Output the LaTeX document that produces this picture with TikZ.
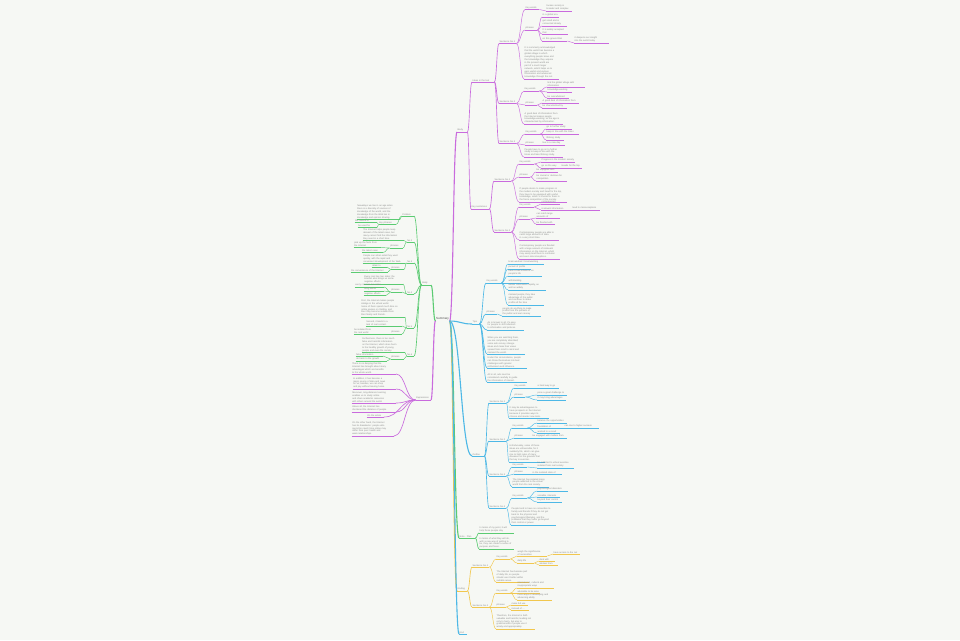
\documentclass[tikz,border=0pt]{standalone}
\usepackage{fontspec}
\setmainfont{Liberation Sans}
\usetikzlibrary{calc}
\definecolor{pu}{HTML}{C96BDD}
\definecolor{cy}{HTML}{4DB8E6}
\definecolor{gr}{HTML}{5BCB72}
\definecolor{ye}{HTML}{F1C74E}
\definecolor{tx}{HTML}{8A8A8A}
\definecolor{bg}{HTML}{F6F8F4}
\newcommand\RN[5]{\node[rn,text width=#4pt] (#1) at (#3) {#5};\draw[ul=#2] (#1.south west) -- (#1.south east);}
\newcommand\LN[5]{\node[ln,text width=#4pt] (#1) at (#3) {#5};\draw[ul=#2] (#1.south west) -- (#1.south east);}
\newcommand\CR[4][c3]{\draw[#1=#2] let \p1=(#3.south east), \p2=(#4.south west), \n1={0.5*\x1+0.5*\x2} in (\p1) .. controls (\n1,\y1) and (\n1,\y2) .. (\p2);}
\newcommand\CL[4][c3]{\draw[#1=#2] let \p1=(#3.south west), \p2=(#4.south east), \n1={0.5*\x1+0.5*\x2} in (\p1) .. controls (\n1,\y1) and (\n1,\y2) .. (\p2);}
\begin{document}
\begin{tikzpicture}[x=1pt,y=-1pt,
  tb/.style={font=\fontsize{2.3}{2.9}\selectfont, text=tx, inner xsep=0.5pt, inner ysep=0.45pt, align=left},
  rn/.style={tb, anchor=south west},
  ln/.style={tb, anchor=south east},
  ul/.style={draw=#1, line width=0.4pt},
  c1/.style={draw=#1, line width=1.1pt},
  c2/.style={draw=#1, line width=0.65pt},
  c3/.style={draw=#1, line width=0.45pt}]
\fill[bg] (0,0) rectangle (960,640);
\useasboundingbox (0,0) rectangle (960,640);
\node[tb, font=\fontsize{3}{3.6}\selectfont, text=black!70, anchor=center] (ctr) at (442.5,319) {Summary};
% ---------- purple right ----------
\RN{P1}{pu}{457,132}{9}{Body}
\RN{L2a}{pu}{472,82}{21}{Ideas in the text}
\RN{L2b}{pu}{471,209}{17}{Key sentences}
\RN{S1}{pu}{499,43.5}{16}{Sentence No.1}
\RN{S1k}{pu}{525,9.5}{13}{Key words}
\RN{S1k1}{pu}{546,11}{25}{human society is\\ broader and complex}
\RN{S1p}{pu}{525,30}{11}{phrases}
\RN{S1p1}{pu}{542,17}{16}{in a global era}
\RN{S1p2}{pu}{542,26}{24}{get small and is\\ connected closely}
\RN{S1p3}{pu}{542,34}{25}{It is widely accepted\\ that}
\RN{S1p4}{pu}{542,41}{24}{on this ground that}
\RN{S1p4a}{pu}{574,43}{34}{it deepens our insight\\ into the world today}
\RN{S1t}{pu}{524,79}{34}{It is commonly acknowledged\\ that the world has become a\\ global village in which\\ everything people know and\\ the knowledge they acquire\\ in the present world are\\ part of a much larger\\ network, which helps us to\\ gain useful and various\\ information and advanced\\ knowledge through the net.}
\RN{S2}{pu}{499,103.5}{16}{Sentence No.2}
\RN{S2k}{pu}{524,91}{14}{Key words}
\RN{S2k1}{pu}{547,87}{37}{link the global village with\\ information}
\RN{S2k2}{pu}{547,92}{24}{knowledge-wanting}
\RN{S2k3}{pu}{547,98}{21}{be overwhelmed}
\RN{S2p}{pu}{525,105}{11}{phrases}
\RN{S2p1}{pu}{542,103}{36}{A good deal of information from}
\RN{S2p2}{pu}{542,108}{24}{be characterized by}
\RN{S2t}{pu}{524,124}{38}{A good deal of information from\\ the Internet makes people\\ knowledge-wanting, so the age is\\ characterized by information.}
\RN{S3}{pu}{499,143.5}{16}{Sentence No.3}
\RN{S3k}{pu}{525,134}{14}{Key words}
\RN{S3k1}{pu}{546,129}{25}{go to further study}
\RN{S3k2}{pu}{546,134}{32}{keep in line with the times}
\RN{S3k3}{pu}{546,140}{17}{lifelong study}
\RN{S3p}{pu}{525,145}{11}{phrases}
\RN{S3p1}{pu}{542,145}{22}{live in a new day}
\RN{S3t}{pu}{524,157}{38}{People have to go on to further\\ study to keep in line with the\\ times and take lifelong study.}
\RN{T1}{pu}{494,181}{16}{Sentence No.1}
\RN{T1k}{pu}{519,164}{14}{Key words}
\RN{T1k1}{pu}{541,162}{33}{Progress in the modern society}
\RN{T1k2}{pu}{541,168}{15}{go on the way}
\RN{T1k2a}{pu}{561,168}{20}{Heads for the top}
\RN{T1p}{pu}{519,177}{10}{phrases}
\RN{T1p1}{pu}{536,172}{21}{be equipped with}
\RN{T1p2}{pu}{536,181}{30}{be crucial or decisive for\\ competition}
\RN{T1t}{pu}{519,202}{47}{If people desire to make progress in\\ the modern society and head for the top,\\ they have to be equipped with useful\\ knowledge, which is crucial for them in\\ the fierce competition of the society.}
\RN{T2}{pu}{494,232}{16}{Sentence No.2}
\RN{T2k}{pu}{519,207}{14}{Key words}
\RN{T2k1}{pu}{541,204}{18}{contemporary}
\RN{T2k2}{pu}{541,210}{25}{irrelevant information}
\RN{T2k2a}{pu}{572,210}{27}{lead to misconceptions}
\RN{T2p}{pu}{519,219}{10}{phrases}
\RN{T2p1}{pu}{536,218}{23}{can catch large\\ amounts of}
\RN{T2p2}{pu}{536,224}{18}{be flooded with}
\RN{T2t1}{pu}{519,240}{39}{Contemporary people are able to\\ catch large amounts of data\\ in a very short time.}
\RN{T2t2}{pu}{519,259}{40}{Contemporary people are flooded\\ with a large amount of irrelevant\\ information on the Internet, which\\ may easily lead them to confusion\\ and even misconceptions.}
\CR[c1]{pu}{ctr}{P1}
\CR[c2]{pu}{P1}{L2a}
\CR[c2]{pu}{P1}{L2b}
\CR[c2]{pu}{L2a}{S1}
\CR[c2]{pu}{L2a}{S2}
\CR[c2]{pu}{L2a}{S3}
\CR[c2]{pu}{L2b}{T1}
\CR[c2]{pu}{L2b}{T2}
\CR{pu}{S1}{S1k}
\CR{pu}{S1}{S1p}
\CR{pu}{S1}{S1t}
\CR{pu}{S1k}{S1k1}
\CR{pu}{S1p}{S1p1}
\CR{pu}{S1p}{S1p2}
\CR{pu}{S1p}{S1p3}
\CR{pu}{S1p}{S1p4}
\CR{pu}{S1p4}{S1p4a}
\CR{pu}{S2}{S2k}
\CR{pu}{S2}{S2p}
\CR{pu}{S2}{S2t}
\CR{pu}{S2k}{S2k1}
\CR{pu}{S2k}{S2k2}
\CR{pu}{S2k}{S2k3}
\CR{pu}{S2p}{S2p1}
\CR{pu}{S2p}{S2p2}
\CR{pu}{S3}{S3k}
\CR{pu}{S3}{S3p}
\CR{pu}{S3}{S3t}
\CR{pu}{S3k}{S3k1}
\CR{pu}{S3k}{S3k2}
\CR{pu}{S3k}{S3k3}
\CR{pu}{S3p}{S3p1}
\CR{pu}{T1}{T1k}
\CR{pu}{T1}{T1p}
\CR{pu}{T1}{T1t}
\CR{pu}{T1k}{T1k1}
\CR{pu}{T1k}{T1k2}
\CR{pu}{T1k2}{T1k2a}
\CR{pu}{T1p}{T1p1}
\CR{pu}{T1p}{T1p2}
\CR{pu}{T2}{T2k}
\CR{pu}{T2}{T2p}
\CR{pu}{T2}{T2t1}
\CR{pu}{T2}{T2t2}
\CR{pu}{T2k}{T2k1}
\CR{pu}{T2k}{T2k2}
\CR{pu}{T2k2}{T2k2a}
\CR{pu}{T2p}{T2p1}
\CR{pu}{T2p}{T2p2}
% ---------- cyan C1 ----------
\RN{C1}{cy}{472,324}{6}{Tips}
\RN{C1k}{cy}{486,283}{14}{Key words}
\RN{C1k1}{cy}{508,264}{35}{brain-washed / brainwashing}
\RN{C1k2}{cy}{508,269}{22}{pursuit of profits}
\RN{C1k3}{cy}{508,276}{33}{have a bad influence on\\ people's life}
\RN{C1k4}{cy}{508,283}{20}{withstanding}
\RN{C1k5}{cy}{508,290}{37}{deliver information rapidly, as\\ well as widely}
\RN{C1k6}{cy}{508,305}{35}{mislead people, they take\\ advantage of the public\\ and continue to make\\ profits all the time}
\RN{C1p}{cy}{486,314}{10}{phrases}
\RN{C1p1}{cy}{502,316}{38}{people do anything to make\\ profits from the pockets of\\ the public and earn money}
\RN{C1t1}{cy}{487,330}{36}{As is known to all, it's easy\\ for people to shift attention\\ to information and pictures.}
\RN{C1t2}{cy}{487,354}{37}{When you are watching them,\\ you are completely absorbed;\\ some ads convey strange\\ ideas and make their views\\ spread from mind to mind and\\ mislead the world.}
\RN{C1t3}{cy}{487,368}{39}{Under this circumstance, people\\ can throw themselves into bad\\ challenges with greater\\ enthusiasm and influence.}
\RN{C1t4}{cy}{487,382}{39}{All in all, ads must be\\ considered carefully to guide\\ the information of interest.}
\CR[c1]{cy}{ctr}{C1}
\CR[c2]{cy}{C1}{C1k}
\CR[c2]{cy}{C1}{C1p}
\CR[c2]{cy}{C1}{C1t1}
\CR[c2]{cy}{C1}{C1t2}
\CR[c2]{cy}{C1}{C1t3}
\CR[c2]{cy}{C1}{C1t4}
\CR{cy}{C1k}{C1k1}
\CR{cy}{C1k}{C1k2}
\CR{cy}{C1k}{C1k3}
\CR{cy}{C1k}{C1k4}
\CR{cy}{C1k}{C1k5}
\CR{cy}{C1k}{C1k6}
\CR{cy}{C1p}{C1p1}
% ---------- cyan C2 ----------
\RN{C2}{cy}{472,456}{11}{Outline}
\RN{U1}{cy}{489,403}{16}{Sentence No.1}
\RN{U1k}{cy}{514,388}{14}{Key words}
\RN{U1k1}{cy}{537,388}{21}{a hard way to go}
\RN{U1p}{cy}{514,397}{10}{phrases}
\RN{U1p1}{cy}{537,395}{29}{pose a great challenge to}
\RN{U1p2}{cy}{537,400}{28}{it may bring advantages}
\RN{U1t}{cy}{509,418}{39}{It may be advantageous to\\ have prospects in the Internet\\ because it provides ways to\\ choose and master new tools.}
\RN{U2}{cy}{489,441}{16}{Sentence No.2}
\RN{U2k}{cy}{512,428}{14}{Key words}
\RN{U2k1}{cy}{537,423}{29}{balance the opportunities}
\RN{U2k2}{cy}{537,428}{19}{foundation of}
\RN{U2k2a}{cy}{564,428}{34}{can rise to higher success}
\RN{U2k3}{cy}{537,433}{22}{worked to a result}
\RN{U2p}{cy}{514,438}{10}{phrases}
\RN{U2p1}{cy}{532,438}{34}{be engaged with matters from}
\RN{U2t}{cy}{509,462}{35}{Unfortunately, some of these\\ ideas are unfavorable, for it\\ suddenly fits, which can give\\ rise to high rates of many\\ diseases on the grounds that\\ the key is exercise.}
\RN{U3}{cy}{489,476}{16}{Sentence No.3}
\RN{U3k}{cy}{512,467}{14}{Key words}
\RN{U3k1}{cy}{537,468}{36}{be addicted to virtual exercise\\ isolated from real society}
\RN{U3p}{cy}{514,474}{10}{phrases}
\RN{U3p1}{cy}{532,474}{29}{in the isolated state of}
\RN{U3t}{cy}{512,487}{36}{The Internet has isolated many\\ people addicted to the virtual\\ world from the real society.}
\RN{U4}{cy}{489,508}{16}{Sentence No.4}
\RN{U4k}{cy}{512,498}{14}{Key words}
\RN{U4k1}{cy}{537,491}{30}{psychological disorders}
\RN{U4k2}{cy}{537,497}{22}{sociable, interests}
\RN{U4k3}{cy}{537,502}{24}{beyond their control}
\RN{U4t}{cy}{511,525}{44}{People tend to have no connection to\\ family and friends if they do not get\\ back to the physical and\\ psychological lifestyles, and the\\ problems that they suffer go beyond\\ their control or power.}
\CR[c1]{cy}{ctr}{C2}
\CR[c2]{cy}{C2}{U1}
\CR[c2]{cy}{C2}{U2}
\CR[c2]{cy}{C2}{U3}
\CR[c2]{cy}{C2}{U4}
\CR{cy}{U1}{U1k}
\CR{cy}{U1}{U1p}
\CR{cy}{U1}{U1t}
\CR{cy}{U1k}{U1k1}
\CR{cy}{U1p}{U1p1}
\CR{cy}{U1p}{U1p2}
\CR{cy}{U2}{U2k}
\CR{cy}{U2}{U2p}
\CR{cy}{U2}{U2t}
\CR{cy}{U2k}{U2k1}
\CR{cy}{U2k}{U2k2}
\CR{cy}{U2k}{U2k3}
\CR{cy}{U2k2}{U2k2a}
\CR{cy}{U2p}{U2p1}
\CR{cy}{U3}{U3k}
\CR{cy}{U3}{U3p}
\CR{cy}{U3}{U3t}
\CR{cy}{U3k}{U3k1}
\CR{cy}{U3p}{U3p1}
\CR{cy}{U4}{U4k}
\CR{cy}{U4}{U4t}
\CR{cy}{U4k}{U4k1}
\CR{cy}{U4k}{U4k2}
\CR{cy}{U4k}{U4k3}
% ---------- green right ----------
\RN{G1}{gr}{459,538}{15}{Note · Plan}
\RN{G1a}{gr}{479,533}{34}{In terms of my point, it will\\ help those people stay}
\RN{G1b}{gr}{479,549}{34}{In terms of what they will do,\\ with a new way of getting to\\ be, they can create a sense of\\ purpose and focus.}
\CR[c1]{gr}{ctr}{G1}
\CR[c2]{gr}{G1}{G1a}
\CR[c2]{gr}{G1}{G1b}
% ---------- yellow ----------
\RN{Y1}{ye}{457,591}{9}{Ending}
\RN{V1}{ye}{472,567}{16}{Sentence No.1}
\RN{V1k}{ye}{496,559}{13}{Key words}
\RN{V1k1}{ye}{517,556}{29}{weigh the significance\\ of necessities}
\RN{V1k1a}{ye}{553,554}{26}{have access to the net}
\RN{V1k2}{ye}{517,563}{16}{daily life}
\RN{V1k2a}{ye}{539,561}{15}{deal with}
\RN{V1k2b}{ye}{539,565}{18}{abstain from}
\RN{V1t}{ye}{496,582}{32}{The Internet has become part\\ of daily life, so people\\ should use it better within\\ suitable areas.}
\RN{V2}{ye}{472,607}{16}{Sentence No.2}
\RN{V2k}{ye}{496,593}{13}{Key words}
\RN{V2k1}{ye}{517,588}{36}{international, cultural and\\ inappropriate ways}
\RN{V2k2}{ye}{517,593}{22}{advisable to be wise}
\RN{V2k3}{ye}{517,600}{34}{more ways of developing and\\ advancing ability}
\RN{V2p}{ye}{496,607}{9}{phrases}
\RN{V2p1}{ye}{511,605}{16}{make full use}
\RN{V2p2}{ye}{511,610}{17}{instead of ...}
\RN{V2t}{ye}{496,629}{38}{Therefore, the Internet is both\\ valuable and harmful, leading not\\ only to harm, but also to\\ great benefits if people use it\\ wisely and appropriately.}
\CR[c1]{ye}{ctr}{Y1}
\CR[c2]{ye}{Y1}{V1}
\CR[c2]{ye}{Y1}{V2}
\CR{ye}{V1}{V1k}
\CR{ye}{V1}{V1t}
\CR{ye}{V1k}{V1k1}
\CR{ye}{V1k}{V1k2}
\CR{ye}{V1k1}{V1k1a}
\CR{ye}{V1k2}{V1k2a}
\CR{ye}{V1k2}{V1k2b}
\CR{ye}{V2}{V2k}
\CR{ye}{V2}{V2p}
\CR{ye}{V2}{V2t}
\CR{ye}{V2k}{V2k1}
\CR{ye}{V2k}{V2k2}
\CR{ye}{V2k}{V2k3}
\CR{ye}{V2p}{V2p1}
\CR{ye}{V2p}{V2p2}
% ---------- cyan bottom ----------
\RN{C3}{cy}{459,634}{7}{End}
\CR[c1]{cy}{ctr}{C3}
% ---------- green left ----------
\LN{GL}{gr}{431,285}{8}{Body}
\LN{LA}{gr}{414,216}{11}{Problem}
\LN{PA}{gr}{400,219.5}{42}{Nowadays we live in an age when\\ there is a diversity of sources of\\ knowledge of the world, and the\\ knowledge from the Web lies in\\ knowledge and opinion sharing.}
\LN{KA}{gr}{396,224.5}{16}{key phrases}
\LN{KA1}{gr}{377,222.5}{21}{the source of}
\LN{KA2}{gr}{377,227.5}{18}{be used for}
\LN{LB}{gr}{414,242}{6}{No.2}
\LN{PB}{gr}{404,240.5}{40}{The Internet helps people keep\\ abreast of the latest news, but\\ many cannot find the information\\ they need in a short time.}
\LN{KB}{gr}{403,248}{12}{phrases}
\LN{KB1}{gr}{381,247.5}{26}{pick up the facts from\\ the Internet}
\LN{KB2}{gr}{383,252.5}{20}{the latest news}
\LN{LC}{gr}{414,263}{6}{No.3}
\LN{PC}{gr}{405,263.5}{41}{People can attain what they want\\ quickly, with the rapid and\\ convenient development of the Web.}
\LN{KC}{gr}{404,269.5}{12}{phrases}
\LN{KC1}{gr}{387,267}{14}{attain to}
\LN{KC2}{gr}{388,272}{36}{the convenience of the Internet}
\LN{LD}{gr}{414,294}{6}{No.4}
\LN{PD}{gr}{403,284}{38}{Every coin has two sides; the\\ Internet also brings us some\\ negative effects.}
\LN{KD}{gr}{402,292}{10}{phrases}
\LN{KD1}{gr}{384,287}{28}{every coin has two sides}
\LN{KD2}{gr}{384,291}{19}{bring about}
\LN{KD3}{gr}{386,295.5}{21}{negative effects}
\LN{LE}{gr}{414,328}{6}{No.5}
\LN{PE}{gr}{405,317}{43}{First, the Internet makes people\\ indulge in the virtual world.\\ Some of them spend much time on\\ online games or chatting, and\\ then they become isolated from\\ their family and friends.}
\LN{PE2}{gr}{402,326}{35}{Second, it leads to a\\ lack of real contact.}
\LN{KE}{gr}{402,334}{10}{phrases}
\LN{KE1}{gr}{383,334}{28}{be isolated from\\ the real world}
\LN{LF}{gr}{414,356}{6}{No.6}
\LN{PF}{gr}{405,352.5}{42}{Furthermore, there is too much\\ false and harmful information\\ on the Internet, which does harm\\ to the healthy growth of young\\ people and even the society.}
\LN{KF}{gr}{404,359}{12}{phrases}
\LN{KF1}{gr}{383,356}{26}{false information}
\LN{KF2}{gr}{387,361}{30}{do harm to the growth}
\CL[c1]{gr}{ctr}{GL}
\CL[c2]{gr}{GL}{LA}
\CL[c2]{gr}{GL}{LB}
\CL[c2]{gr}{GL}{LC}
\CL[c2]{gr}{GL}{LD}
\CL[c2]{gr}{GL}{LE}
\CL[c2]{gr}{GL}{LF}
\CL{gr}{LA}{PA}
\CL{gr}{LA}{KA}
\CL{gr}{KA}{KA1}
\CL{gr}{KA}{KA2}
\CL{gr}{LB}{PB}
\CL{gr}{LB}{KB}
\CL{gr}{KB}{KB1}
\CL{gr}{KB}{KB2}
\CL{gr}{LC}{PC}
\CL{gr}{LC}{KC}
\CL{gr}{KC}{KC1}
\CL{gr}{KC}{KC2}
\CL{gr}{LD}{PD}
\CL{gr}{LD}{KD}
\CL{gr}{KD}{KD1}
\CL{gr}{KD}{KD2}
\CL{gr}{KD}{KD3}
\CL{gr}{LE}{PE}
\CL{gr}{LE}{PE2}
\CL{gr}{LE}{KE}
\CL{gr}{KE}{KE1}
\CL{gr}{LF}{PF}
\CL{gr}{LF}{KF}
\CL{gr}{KF}{KF1}
\CL{gr}{KF}{KF2}
% ---------- purple left ----------
\LN{PL}{pu}{431,400}{14}{Expressions}
\LN{PL1}{pu}{396,374}{43}{There is no denying that the\\ Internet has brought about many\\ advantages which are benefits\\ to the whole world.}
\LN{PL2}{pu}{396,389}{42}{In addition, it has become a\\ major source of data and news\\ for us; besides, we can shop\\ and pay without leaving home.}
\LN{PL3}{pu}{396,403}{43}{Moreover, long-distance learning\\ enables us to study online\\ and share academic resources\\ with others around the world.}
\LN{PL4}{pu}{396,412}{43}{Above all, the Internet has\\ shortened the distance of people.}
\LN{PL5}{pu}{384,417}{16}{On the whole}
\LN{PL6}{pu}{394,436}{41}{On the other hand, the Internet\\ has its drawbacks: people who\\ spend too much time online may\\ suffer from poor health and\\ weak relationships.}
\CL[c1]{pu}{ctr}{PL}
\CL[c2]{pu}{PL}{PL1}
\CL[c2]{pu}{PL}{PL2}
\CL[c2]{pu}{PL}{PL3}
\CL[c2]{pu}{PL}{PL4}
\CL[c2]{pu}{PL}{PL5}
\CL[c2]{pu}{PL}{PL6}
\end{tikzpicture}
\end{document}
